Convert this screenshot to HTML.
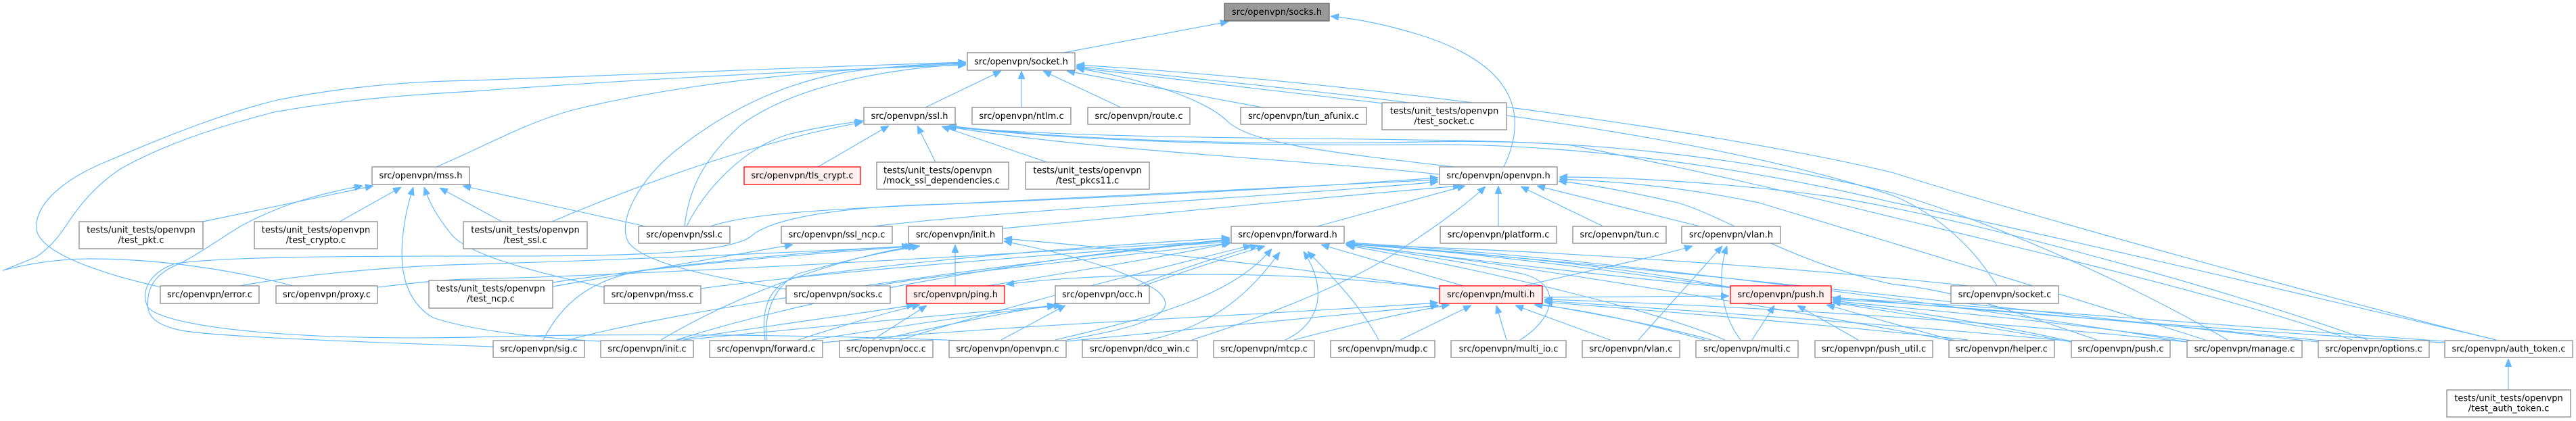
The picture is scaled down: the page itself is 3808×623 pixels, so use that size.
<!DOCTYPE html>
<html><head><meta charset="utf-8"><style>
html,body{margin:0;padding:0;background:#fff;}
svg{display:block;}
text{font-family:"DejaVu Sans","Liberation Sans",sans-serif;font-size:13px;fill:#000;}
.n{fill:#fff;stroke:#8a8a8a;stroke-width:1.3;}
.r{fill:#fff0f0;stroke:#ff0000;stroke-width:1.3;}
.g{fill:#999999;stroke:#666666;stroke-width:1.3;}
.e path{fill:none;stroke:#63b8ff;stroke-width:1.15;marker-end:url(#a);}
</style></head><body>
<svg width="3808" height="623" viewBox="0 0 3808 623" xmlns="http://www.w3.org/2000/svg">
<defs><marker id="a" viewBox="0 0 12 10" refX="12" refY="5" markerWidth="12" markerHeight="10" markerUnits="userSpaceOnUse" orient="auto"><path d="M0,0 L12,5 L0,10 z" fill="#63b8ff" stroke="#63b8ff" stroke-width="0.8"/></marker></defs>
<g class="e">
<path d="M1572,78 L1816,32"/>
<path d="M2223,247 C2262,165 2235,95 2100,52 C2045,35 2005,28 1967,24"/>
<path d="M1368,159 L1480,105"/>
<path d="M1510,159 L1510,105"/>
<path d="M1657,159 L1542,105"/>
<path d="M1866,159 L1577,105"/>
<path d="M2045,153 L1591,100"/>
<path d="M2158,248 C1960,225 1850,212 1815,180 C1785,150 1700,118 1591,101"/>
<path d="M645,247 C720,215 780,180 850,162 C1000,125 1200,103 1428,94"/>
<path d="M238,425 C150,405 60,375 54,340 C50,295 110,258 160,238 C260,195 340,165 410,148 C520,126 620,120 700,119 C920,110 1180,100 1428,92"/>
<path d="M433,423 C340,398 230,383 134,383 C70,383 20,396 5,400 C0,402 30,390 54,380 C80,362 92,342 103,326 C122,298 145,272 178,250 C245,212 335,184 405,166 C510,147 610,140 700,135 C930,118 1200,104 1428,96"/>
<path d="M1012,335 C1018,280 1040,235 1095,185 C1170,130 1300,102 1428,95"/>
<path d="M1162,428 C1050,410 955,390 930,360 C910,330 945,265 1000,222 C1065,170 1150,124 1250,107 C1320,97 1380,94 1428,93"/>
<path d="M2952,423 C2920,370 2870,320 2800,290 C2500,190 2000,140 1591,98"/>
<path d="M3690,503 C3550,470 3000,320 2800,256 C2550,195 2000,120 1591,96"/>
<path d="M1209,247 L1314,186"/>
<path d="M1383,240 L1356,186"/>
<path d="M1548,240 L1392,187"/>
<path d="M816,328 C900,292 1100,212 1275,181"/>
<path d="M1015,335 C1040,282 1100,218 1165,199 C1210,188 1245,183 1276,179"/>
<path d="M2127,258 C1950,238 1600,222 1399,187"/>
<path d="M3477,503 C3300,440 3000,370 2800,322 C2650,285 2500,250 2323,215 C2150,200 1700,212 1400,188"/>
<path d="M3690,503 C3550,470 3000,340 2800,300 C2550,240 2300,212 2100,214 C1800,217 1550,205 1401,187"/>
<path d="M3293,503 C3150,420 2950,330 2800,286 C2550,225 2300,205 2100,210 C1800,216 1550,204 1402,186"/>
<path d="M1290,335 C1500,310 1900,290 2126,269"/>
<path d="M1050,335 C1100,318 1200,310 1400,302 C1700,288 1950,275 2126,266"/>
<path d="M1482,338 C1700,318 1950,292 2160,275"/>
<path d="M1947,335 L2166,275"/>
<path d="M1762,503 C1850,475 2000,420 2080,363 C2130,330 2170,300 2196,276"/>
<path d="M2215,335 L2215,275"/>
<path d="M2370,335 L2248,276"/>
<path d="M2513,335 L2272,275"/>
<path d="M3100,503 C3000,470 2900,430 2800,421 C2650,390 2550,320 2480,300 C2400,282 2350,273 2304,268"/>
<path d="M3260,503 C3000,420 2700,330 2600,300 C2480,275 2380,268 2305,265"/>
<path d="M3500,503 C3300,430 2900,320 2700,290 C2550,270 2400,262 2305,262"/>
<path d="M1420,504 C1200,495 900,493 700,499 C400,505 240,480 219,455 C205,430 225,400 260,390 C330,380 500,379 700,379 C900,379 1070,378 1110,350 C1140,322 1250,305 1400,302 C1700,290 1950,276 2126,263"/>
<path d="M300,328 L552,275"/>
<path d="M502,328 L593,277"/>
<path d="M742,328 L650,278"/>
<path d="M959,336 L684,275"/>
<path d="M893,425 C800,405 700,380 670,350 C645,320 635,300 627,277"/>
<path d="M888,505 C800,500 700,490 640,470 C590,440 590,380 598,330 C602,305 607,290 611,277"/>
<path d="M729,513 C600,508 330,500 268,489 C225,480 215,465 219,440 C222,415 240,400 268,389 C300,372 330,350 357,334 C420,300 480,285 536,275"/>
<path d="M1412,423 L1412,362"/>
<path d="M977,503 C1100,430 1250,380 1354,364"/>
<path d="M803,503 C830,450 870,415 950,400 C1150,375 1280,368 1345,364"/>
<path d="M1133,503 C1130,470 1140,425 1180,405 C1250,385 1310,372 1360,364"/>
<path d="M1577,503 C1650,490 1760,470 1710,430 C1660,395 1550,370 1484,357"/>
<path d="M2530,503 C2300,440 1800,380 1484,353"/>
<path d="M817,418 C1000,390 1250,372 1356,364"/>
<path d="M355,423 C450,405 600,393 700,391 C900,385 1150,375 1350,364"/>
<path d="M817,424 C950,400 1080,378 1172,362"/>
<path d="M558,425 C620,418 660,413 700,413 C1000,405 1500,375 1818,356"/>
<path d="M1036,427 C1200,405 1500,380 1818,358"/>
<path d="M1293,423 C1400,405 1600,385 1818,360"/>
<path d="M1131,503 C1125,460 1135,420 1180,410 C1400,380 1650,362 1818,352"/>
<path d="M1000,503 C1200,440 1500,385 1818,354"/>
<path d="M1330,503 C1500,450 1700,400 1850,363"/>
<path d="M1560,503 C1700,470 1820,440 1880,368"/>
<path d="M1700,503 C1800,480 1850,430 1892,373"/>
<path d="M1900,503 C1950,480 1965,430 1927,372"/>
<path d="M2038,503 C2010,450 1970,410 1933,372"/>
<path d="M2247,503 C2300,470 2310,420 2250,405 C2150,385 2050,370 1989,361"/>
<path d="M2550,503 C2450,460 2200,400 1990,363"/>
<path d="M2558,425 C2400,395 2200,375 1990,360"/>
<path d="M1680,423 C1740,400 1800,380 1860,363"/>
<path d="M1690,423 C1750,402 1810,382 1870,364"/>
<path d="M1460,423 C1600,400 1750,375 1820,359"/>
<path d="M3062,506 C2800,460 2300,380 1990,361"/>
<path d="M3233,506 C2900,450 2300,375 1990,359"/>
<path d="M2909,423 C2700,400 2300,370 1990,362"/>
<path d="M2163,423 L1953,362"/>
<path d="M840,503 C1000,460 1400,400 1818,355"/>
<path d="M1913,503 C2000,480 2080,462 2143,451"/>
<path d="M2070,503 L2175,452"/>
<path d="M2227,503 L2212,452"/>
<path d="M2380,503 L2240,452"/>
<path d="M2520,503 C2400,470 2320,455 2268,451"/>
<path d="M1216,507 C1500,480 1800,470 2126,448"/>
<path d="M1576,505 C1800,485 2000,465 2127,452"/>
<path d="M2909,503 C2700,480 2450,460 2283,447"/>
<path d="M3062,505 C2800,480 2500,460 2283,445"/>
<path d="M3233,506 C2900,470 2500,450 2283,443"/>
<path d="M2282,440 L2556,438"/>
<path d="M2253,423 C2350,400 2450,380 2502,364"/>
<path d="M2128,428 C1900,395 1600,405 1487,421"/>
<path d="M2590,503 L2623,452"/>
<path d="M2747,503 L2657,452"/>
<path d="M3062,505 C2900,470 2780,455 2709,447"/>
<path d="M3240,504 C3000,470 2800,455 2709,445"/>
<path d="M3430,504 C3100,470 2850,450 2709,443"/>
<path d="M3613,505 C3200,475 2900,450 2709,441"/>
<path d="M2890,504 C2800,480 2740,462 2700,451"/>
<path d="M2422,503 L2546,364"/>
<path d="M2573,503 C2540,460 2540,400 2553,364"/>
<path d="M1180,503 C1250,480 1320,460 1360,451"/>
<path d="M1000,503 C1150,480 1300,460 1352,451"/>
<path d="M1290,503 L1370,452"/>
<path d="M1300,503 C1400,480 1500,460 1560,451"/>
<path d="M1200,503 C1350,480 1480,460 1560,453"/>
<path d="M1010,503 C1200,485 1450,460 1570,452"/>
<path d="M1480,503 L1575,452"/>
<path d="M3427,506 C3000,460 2400,390 1991,361"/>
<path d="M3613,507 C3300,490 2800,450 2500,420 C2300,400 2100,375 1991,362"/>
<path d="M2885,504 C2600,450 2200,385 1991,362"/>
<path d="M3708,577 L3708,531"/>
</g>
<g>
<rect class="g" x="1810" y="5" width="155" height="26"/><text x="1887.5" y="22" text-anchor="middle">src/openvpn/socks.h</text>
<rect class="n" x="1430" y="78" width="159" height="26"/><text x="1509.5" y="95.3" text-anchor="middle">src/openvpn/socket.h</text>
<rect class="n" x="1277" y="159" width="135" height="25"/><text x="1344.5" y="176" text-anchor="middle">src/openvpn/ssl.h</text>
<rect class="n" x="1437" y="159" width="146" height="25"/><text x="1510" y="176" text-anchor="middle">src/openvpn/ntlm.c</text>
<rect class="n" x="1608" y="159" width="151" height="25"/><text x="1683.5" y="176" text-anchor="middle">src/openvpn/route.c</text>
<rect class="n" x="1834" y="159" width="186" height="25"/><text x="1927" y="176" text-anchor="middle">src/openvpn/tun_afunix.c</text>
<rect class="n" x="2043" y="152" width="184" height="40"/><text x="2135" y="168.7" text-anchor="middle">tests/unit_tests/openvpn</text><text x="2135" y="183.3" text-anchor="middle">/test_socket.c</text>
<rect class="n" x="550" y="247" width="144" height="26"/><text x="622" y="264" text-anchor="middle">src/openvpn/mss.h</text>
<rect class="r" x="1100" y="247" width="172" height="26"/><text x="1186" y="264" text-anchor="middle">src/openvpn/tls_crypt.c</text>
<rect class="n" x="1296" y="240" width="195" height="40"/><text x="1306" y="256.7">tests/unit_tests/openvpn</text><text x="1306" y="271.3">/mock_ssl_dependencies.c</text>
<rect class="n" x="1516" y="240" width="183" height="40"/><text x="1607.5" y="256.7" text-anchor="middle">tests/unit_tests/openvpn</text><text x="1607.5" y="271.3" text-anchor="middle">/test_pkcs11.c</text>
<rect class="n" x="2128" y="247" width="174" height="26"/><text x="2215" y="264" text-anchor="middle">src/openvpn/openvpn.h</text>
<rect class="n" x="117" y="328" width="183" height="40"/><text x="208.5" y="344.7" text-anchor="middle">tests/unit_tests/openvpn</text><text x="208.5" y="359.3" text-anchor="middle">/test_pkt.c</text>
<rect class="n" x="376" y="328" width="182" height="40"/><text x="467" y="344.7" text-anchor="middle">tests/unit_tests/openvpn</text><text x="467" y="359.3" text-anchor="middle">/test_crypto.c</text>
<rect class="n" x="685" y="328" width="183" height="40"/><text x="776.5" y="344.7" text-anchor="middle">tests/unit_tests/openvpn</text><text x="776.5" y="359.3" text-anchor="middle">/test_ssl.c</text>
<rect class="n" x="944" y="335" width="135" height="25"/><text x="1011.5" y="351.5" text-anchor="middle">src/openvpn/ssl.c</text>
<rect class="n" x="1155" y="335" width="164" height="25"/><text x="1237" y="351.5" text-anchor="middle">src/openvpn/ssl_ncp.c</text>
<rect class="n" x="1343" y="335" width="139" height="25"/><text x="1412.5" y="351.5" text-anchor="middle">src/openvpn/init.h</text>
<rect class="n" x="1820" y="335" width="167" height="25"/><text x="1903.5" y="351.5" text-anchor="middle">src/openvpn/forward.h</text>
<rect class="n" x="2129" y="335" width="172" height="25"/><text x="2215" y="351.5" text-anchor="middle">src/openvpn/platform.c</text>
<rect class="n" x="2325" y="335" width="138" height="25"/><text x="2394" y="351.5" text-anchor="middle">src/openvpn/tun.c</text>
<rect class="n" x="2486" y="335" width="146" height="25"/><text x="2559" y="351.5" text-anchor="middle">src/openvpn/vlan.h</text>
<rect class="n" x="237" y="423" width="146" height="26"/><text x="310" y="439.8" text-anchor="middle">src/openvpn/error.c</text>
<rect class="n" x="408" y="423" width="150" height="26"/><text x="483" y="439.8" text-anchor="middle">src/openvpn/proxy.c</text>
<rect class="n" x="634" y="415" width="183" height="41"/><text x="725.5" y="431.7" text-anchor="middle">tests/unit_tests/openvpn</text><text x="725.5" y="446.3" text-anchor="middle">/test_ncp.c</text>
<rect class="n" x="893" y="423" width="143" height="26"/><text x="964.5" y="439.8" text-anchor="middle">src/openvpn/mss.c</text>
<rect class="n" x="1162" y="423" width="154" height="26"/><text x="1239" y="439.8" text-anchor="middle">src/openvpn/socks.c</text>
<rect class="r" x="1340" y="423" width="145" height="26"/><text x="1412.5" y="439.8" text-anchor="middle">src/openvpn/ping.h</text>
<rect class="n" x="1560" y="423" width="139" height="26"/><text x="1629.5" y="439.8" text-anchor="middle">src/openvpn/occ.h</text>
<rect class="r" x="2128" y="423" width="152" height="26"/><text x="2204" y="439.8" text-anchor="middle">src/openvpn/multi.h</text>
<rect class="r" x="2558" y="423" width="149" height="26"/><text x="2632.5" y="439.8" text-anchor="middle">src/openvpn/push.h</text>
<rect class="n" x="2884" y="423" width="159" height="26"/><text x="2963.5" y="439.8" text-anchor="middle">src/openvpn/socket.c</text>
<rect class="n" x="729" y="504" width="135" height="25"/><text x="796.5" y="520.5" text-anchor="middle">src/openvpn/sig.c</text>
<rect class="n" x="888" y="504" width="137" height="25"/><text x="956.5" y="520.5" text-anchor="middle">src/openvpn/init.c</text>
<rect class="n" x="1049" y="504" width="167" height="25"/><text x="1132.5" y="520.5" text-anchor="middle">src/openvpn/forward.c</text>
<rect class="n" x="1241" y="504" width="138" height="25"/><text x="1310" y="520.5" text-anchor="middle">src/openvpn/occ.c</text>
<rect class="n" x="1403" y="504" width="173" height="25"/><text x="1489.5" y="520.5" text-anchor="middle">src/openvpn/openvpn.c</text>
<rect class="n" x="1600" y="504" width="170" height="25"/><text x="1685" y="520.5" text-anchor="middle">src/openvpn/dco_win.c</text>
<rect class="n" x="1794" y="504" width="149" height="25"/><text x="1868.5" y="520.5" text-anchor="middle">src/openvpn/mtcp.c</text>
<rect class="n" x="1967" y="504" width="154" height="25"/><text x="2044" y="520.5" text-anchor="middle">src/openvpn/mudp.c</text>
<rect class="n" x="2145" y="504" width="170" height="25"/><text x="2230" y="520.5" text-anchor="middle">src/openvpn/multi_io.c</text>
<rect class="n" x="2339" y="504" width="144" height="25"/><text x="2411" y="520.5" text-anchor="middle">src/openvpn/vlan.c</text>
<rect class="n" x="2507" y="504" width="151" height="25"/><text x="2582.5" y="520.5" text-anchor="middle">src/openvpn/multi.c</text>
<rect class="n" x="2683" y="504" width="174" height="25"/><text x="2770" y="520.5" text-anchor="middle">src/openvpn/push_util.c</text>
<rect class="n" x="2881" y="504" width="156" height="25"/><text x="2959" y="520.5" text-anchor="middle">src/openvpn/helper.c</text>
<rect class="n" x="3062" y="504" width="146" height="25"/><text x="3135" y="520.5" text-anchor="middle">src/openvpn/push.c</text>
<rect class="n" x="3233" y="504" width="170" height="25"/><text x="3318" y="520.5" text-anchor="middle">src/openvpn/manage.c</text>
<rect class="n" x="3427" y="504" width="164" height="25"/><text x="3509" y="520.5" text-anchor="middle">src/openvpn/options.c</text>
<rect class="n" x="3614" y="504" width="189" height="25"/><text x="3708.5" y="520.5" text-anchor="middle">src/openvpn/auth_token.c</text>
<rect class="n" x="3617" y="577" width="183" height="40"/><text x="3708.5" y="593.7" text-anchor="middle">tests/unit_tests/openvpn</text><text x="3708.5" y="608.3" text-anchor="middle">/test_auth_token.c</text>
</g>
</svg>
</body></html>
